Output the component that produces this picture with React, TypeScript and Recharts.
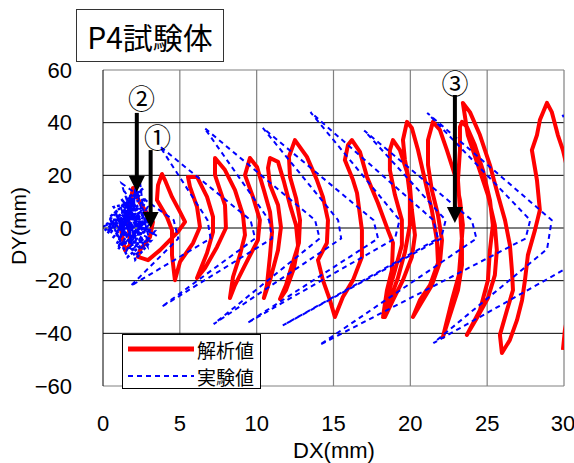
import React from 'react';
import { LineChart, Line, XAxis, YAxis, ReferenceLine, ReferenceDot } from 'recharts';

const DX_TICKS = [0, 5, 10, 15, 20, 25, 30];
const DY_TICKS = [-60, -40, -20, 0, 20, 40, 60];
const GRID_X = [5, 10, 15, 20, 25];
const GRID_Y = [-40, -20, 0, 20, 40];

// 解析値 (analysis) : one continuous path, DX / DY in mm
const analysisPath: [number, number][] = [
  [1.11, 1.1], [1.43, -8.4], [1.76, -6.5], [1.63, 4.9], [1.95, 15.2],
  [2.41, 9.5], [3.25, 2.3], [3.06, -3.4], [2.41, -8.4], [2.28, -11.0],
  [2.93, -12.2], [3.71, -8.4], [4.88, -1.5], [5.34, 2.3], [5.01, 6.1], [4.49, 11.8], [4.03, 18.2], [3.84, 20.5],
  [3.58, 16.3], [3.51, 10.6], [4.16, 4.2], [4.49, -0.8], [4.49, -10.3], [4.68, -19.8],
  [5.01, -12.9], [5.86, -5.7], [6.31, 0.4], [6.12, 8.0], [5.66, 15.6], [5.53, 19.4],
  [6.12, 19.4], [6.77, 11.8], [7.16, 4.2], [7.16, -1.5], [6.77, -9.5], [6.12, -19.0],
  [6.64, -15.2], [7.42, -7.2], [8.0, 0.0], [7.94, 8.7], [7.29, 20.1], [7.29, 26.6],
  [7.94, 22.0], [8.59, 14.4], [9.11, 4.9], [9.24, -2.7], [8.91, -10.3], [8.46, -18.6], [8.26, -26.6],
  [8.59, -21.7], [9.24, -14.1], [10.08, -4.6], [10.21, 3.0], [9.76, 11.8], [9.24, 20.1], [9.56, 26.6],
  [10.02, 23.2], [10.47, 14.4], [10.87, 6.1], [11.0, -1.5], [10.87, -10.3], [10.67, -21.7], [10.47, -26.6],
  [10.87, -19.8], [11.39, -8.4], [11.58, 0.4], [11.39, 8.7], [10.87, 16.3], [10.74, 22.8], [10.87, 26.6],
  [11.39, 25.1], [11.78, 17.5], [12.17, 8.7], [12.56, 1.1], [12.69, -6.5], [12.43, -15.2], [11.91, -23.6], [11.52, -27.0],
  [11.91, -21.7], [12.3, -14.1], [12.75, -5.7], [12.82, 3.0], [12.56, 11.4], [12.17, 19.4], [12.1, 27.0], [12.49, 33.4],
  [13.27, 27.0], [13.92, 18.2], [14.31, 11.8], [14.64, 3.0], [14.57, -5.7], [13.99, -12.2], [14.31, -19.8], [14.77, -27.4], [15.09, -33.8],
  [15.61, -26.2], [16.27, -19.8], [16.85, -11.0], [16.85, -0.8], [16.53, 13.3], [16.27, 18.2], [15.74, 25.8], [15.94, 31.5], [16.2, 33.4],
  [16.72, 28.9], [17.18, 19.4], [17.89, 9.5], [18.54, -0.8], [18.87, -5.7], [18.8, -16.0], [18.48, -23.6], [18.22, -33.8],
  [18.54, -25.5], [19.0, -16.0], [19.45, -6.5], [19.45, 3.0], [19.0, 12.5], [18.67, 22.0], [18.67, 29.6], [18.87, 33.4],
  [19.32, 29.6], [19.78, 21.3], [19.97, 12.5], [19.97, 1.1], [19.65, -9.1], [19.19, -19.0], [18.67, -27.4], [18.35, -33.8],
  [18.87, -27.4], [19.52, -19.8], [20.1, -11.0], [20.3, -2.7], [20.1, 6.8], [19.97, 16.3], [19.65, 25.8], [19.52, 33.4], [19.78, 40.3],
  [20.1, 38.0], [20.5, 29.6], [20.95, 18.2], [21.4, 6.8], [21.73, -4.6], [21.8, -13.3], [21.28, -21.7], [20.62, -27.4], [20.17, -33.8],
  [20.62, -29.3], [21.4, -21.7], [21.93, -12.9], [22.06, -4.6], [21.8, 4.9], [21.4, 14.4], [21.15, 23.9], [21.15, 33.4], [21.47, 40.3],
  [21.93, 37.2], [22.38, 29.6], [22.9, 20.1], [23.23, 10.6], [23.42, 1.1], [23.29, -8.4], [23.16, -17.9], [22.71, -27.4], [22.12, -41.4],
  [22.58, -33.1], [23.1, -23.6], [23.36, -14.1], [23.36, -4.6], [23.23, 6.8], [23.1, 18.2], [23.23, 29.6], [23.23, 38.4], [23.36, 40.3],
  [23.68, 38.4], [24.2, 31.5], [24.72, 22.0], [25.18, 10.6], [25.37, 1.1], [25.18, -8.4], [25.05, -19.8], [24.53, -31.2], [23.68, -40.6],
  [24.33, -34.2], [25.05, -26.6], [25.5, -17.9], [25.63, -8.4], [25.5, 1.1], [25.05, 12.5], [24.4, 23.9], [23.74, 35.3], [23.42, 47.5],
  [23.88, 44.0], [24.53, 35.3], [25.18, 23.9], [25.7, 12.5], [26.16, 3.0], [26.48, -6.5], [26.61, -16.0], [26.68, -23.6], [26.29, -31.2], [25.83, -40.6], [25.96, -47.5],
  [26.48, -42.5], [26.94, -35.0], [27.27, -27.4], [27.46, -19.8], [27.65, -10.3], [28.11, -0.8], [28.43, 6.8], [28.24, 18.2], [27.91, 29.6], [28.24, 35.3], [28.43, 41.0], [28.89, 47.5],
  [29.21, 44.0], [29.6, 35.3], [29.93, 29.6], [30.71, 10.6], [30.71, -19.8], [30.06, -38.7], [29.93, -46.3],
];

// 実験値 (test) : dense scatter near the origin
const testBlob: [number, number][] = [
  [0.0, 0.5], [0.6, 2], [0.3, -1], [1.2, 4], [0.5, -2], [1.6, 7], [0.8, -3], [2.0, 10], [1.0, -5], [2.2, 12],
  [1.3, -1], [2.4, 6], [0.9, 1], [1.8, -6], [2.6, 3], [1.1, 9], [2.0, -8], [2.8, 0], [1.4, 14], [2.3, -3],
  [0.7, 5], [2.9, 8], [1.5, -9], [3.1, 2], [1.7, 11], [2.5, -5], [1.0, 3], [3.0, -4], [2.1, 16], [1.9, -2],
  [3.2, 5], [1.2, -7], [2.7, 9], [0.4, 0], [2.2, -10], [3.4, -1], [1.6, 1], [2.4, 18], [2.9, -7], [1.3, 6],
  [3.5, -3], [2.0, 2],
];
const testBlob2: [number, number][] = [
  [0.1, -1], [0.9, 3], [0.2, 1.5], [1.5, 2], [0.6, -4], [1.9, 5], [1.1, 0], [2.1, 8], [1.4, -3], [0.8, 6],
  [1.7, -5], [2.5, 1], [1.2, 11], [2.7, -2], [1.8, 13], [1.0, -8], [2.3, 4], [0.5, 3], [1.6, -11], [2.6, -6],
  [1.9, 9], [0.3, -2], [2.2, 14], [1.3, 2], [3.0, 6], [2.0, -4], [0.7, 8], [2.8, 11], [1.5, 5], [2.4, -8],
  [1.0, 1], [3.3, 3], [1.8, 0], [0.4, 4], [2.6, 15], [1.4, 7], [2.1, -12], [3.1, -5], [0.9, -6], [1.7, 3],
];
// 実験値 : wide cycles (peak → right → trough → right → next peak)
const testCycles: [number, number][] = [
  [1.2, 17], [4.6, 3], [4.9, -4], [1.8, -22], [7.0, -4], [6.8, 3],
  [3.7, 31], [9.6, 3], [9.9, -4], [3.8, -30], [11.0, -4], [10.8, 3],
  [6.6, 38], [13.8, 3], [14.1, -4], [7.2, -36.5], [15.5, -4], [15.3, 3],
  [10.4, 38], [17.6, 3], [17.9, -4], [9.4, -36], [19.0, -4], [19.3, 3],
  [13.5, 44], [21.5, 3], [21.8, -4], [11.7, -37], [22.0, -4], [22.3, 3],
  [17.0, 37], [24.0, 3], [24.3, -4], [14.1, -44.4], [27.5, -4], [27.8, 3],
  [21.1, 43.7], [29.2, 3], [28.9, -8], [21.5, -43.7], [33.0, -6], [33.0, 10], [29.9, 43],
];

// annotation arrows ①②③ (start / end in data units) and their labels
const ARROW_X = [3.1, 2.2, 22.9];
const ARROW_FROM = [29.6, 43.7, 50.5];
const ARROW_TO = [0.0, 13.7, 1.9];
const MARK_TEXT = ['①', '②', '③'];
const MARK_X = [3.55, 2.5, 22.9];
const MARK_Y = [34.6, 49.4, 55.4];

const toPts = (a: [number, number][]) => a.map(([x, y]) => ({ x, y }));
const analysisData = toPts(analysisPath);
const testData = toPts([...testBlob, ...testCycles]);
const testBlobData = toPts(testBlob2);

const FONT = '"Liberation Sans", Arial, sans-serif';
const JP = '"Noto Sans CJK JP", "Noto Sans", sans-serif';
const fmt = (v: number) => String(v).replace('-', '\u2212');

const Arrow = (p: any) => {
  const { x1, y1, x2, y2 } = p;
  return (
    <g>
      <line x1={x1} y1={y1} x2={x2} y2={y2 - 12} stroke="#000" strokeWidth={4} />
      <polygon points={`${x2 - 8},${y2 - 16} ${x2 + 8},${y2 - 16} ${x2},${y2}`} fill="#000" />
    </g>
  );
};

export default function App() {
  return (
    <div style={{ position: 'absolute', left: 0, top: 0, width: 574, height: 463, background: '#fff' }}>
      <LineChart width={574} height={463} margin={{ top: 70, right: 10, left: 0, bottom: 0 }}>
        <XAxis
          type="number"
          dataKey="x"
          domain={[0, 30]}
          ticks={DX_TICKS}
          allowDataOverflow
          height={77}
          tickLine={false}
          tickMargin={23}
          axisLine={{ stroke: '#808080' }}
          tick={{ fill: '#000', fontSize: 22, fontFamily: FONT }}
        />
        <YAxis
          type="number"
          dataKey="y"
          domain={[-60, 60]}
          ticks={DY_TICKS}
          allowDataOverflow
          width={103}
          tickLine={false}
          tickMargin={25}
          tickFormatter={fmt}
          axisLine={{ stroke: '#000' }}
          tick={{ fill: '#000', fontSize: 22, fontFamily: FONT }}
        />
        {GRID_X.map((v) => (
          <ReferenceLine key={'gx' + v} x={v} stroke="#808080" strokeWidth={1.2} />
        ))}
        {GRID_Y.map((v) => (
          <ReferenceLine key={'gy' + v} y={v} stroke="#000" strokeWidth={1} />
        ))}
        <ReferenceLine y={60} stroke="#808080" strokeWidth={1.2} />
        <ReferenceLine x={30} stroke="#808080" strokeWidth={1.2} />
        <Line
          data={analysisData}
          dataKey="y"
          stroke="#ff0000"
          strokeWidth={4}
          strokeLinejoin="round"
          dot={false}
          activeDot={false}
          isAnimationActive={false}
        />
        <Line
          data={testBlobData}
          dataKey="y"
          stroke="#0000ff"
          strokeWidth={2.5}
          strokeDasharray="3 2"
          dot={false}
          activeDot={false}
          isAnimationActive={false}
        />
        <Line
          data={testData}
          dataKey="y"
          stroke="#0000ff"
          strokeWidth={2}
          strokeDasharray="5 4"
          dot={false}
          activeDot={false}
          isAnimationActive={false}
        />
        {ARROW_X.map((x, i) => (
          <ReferenceLine
            key={'ar' + i}
            segment={[{ x, y: ARROW_FROM[i] }, { x, y: ARROW_TO[i] }]}
            ifOverflow="visible"
            shape={Arrow}
          />
        ))}
        {MARK_X.map((x, i) => (
          <ReferenceDot
            key={'mk' + i}
            x={x}
            y={MARK_Y[i]}
            ifOverflow="visible"
            shape={(p: any) => (
              <text x={p.cx} y={p.cy} textAnchor="middle" dominantBaseline="central" fontSize={27} fontFamily={JP} fill="#000">
                {MARK_TEXT[i]}
              </text>
            )}
          />
        ))}
      </LineChart>

      <div
        style={{
          position: 'absolute', left: 76, top: 9, width: 148, height: 53, boxSizing: 'border-box',
          border: '1px solid #333', background: '#fff', display: 'flex', alignItems: 'center',
          justifyContent: 'center', fontFamily: JP, fontSize: 30, color: '#000',
        }}
      >
        P4試験体
      </div>

      <div
        style={{
          position: 'absolute', left: 122, top: 334, width: 139, height: 55, boxSizing: 'border-box',
          border: '1px solid #000', background: '#fff', fontFamily: JP, fontSize: 19, color: '#000',
        }}
      >
        <svg width={70} height={55} style={{ position: 'absolute', left: 4, top: 0 }}>
          <line x1={1} y1={14} x2={67} y2={14} stroke="#ff0000" strokeWidth={5} />
          <line x1={1} y1={41} x2={67} y2={41} stroke="#0000ff" strokeWidth={2} strokeDasharray="5 4" />
        </svg>
        <div style={{ position: 'absolute', left: 74, top: 14, transform: 'translateY(-50%)', lineHeight: 1 }}>解析値</div>
        <div style={{ position: 'absolute', left: 74, top: 41, transform: 'translateY(-50%)', lineHeight: 1 }}>実験値</div>
      </div>

      <div
        style={{
          position: 'absolute', left: 19, top: 226, transform: 'translate(-50%, -50%) rotate(-90deg)',
          fontFamily: FONT, fontSize: 21, whiteSpace: 'nowrap', color: '#000',
        }}
      >
        DY(mm)
      </div>
      <div
        style={{
          position: 'absolute', left: 334, top: 451, transform: 'translate(-50%, -50%)',
          fontFamily: FONT, fontSize: 22, whiteSpace: 'nowrap', color: '#000',
        }}
      >
        DX(mm)
      </div>
    </div>
  );
}
